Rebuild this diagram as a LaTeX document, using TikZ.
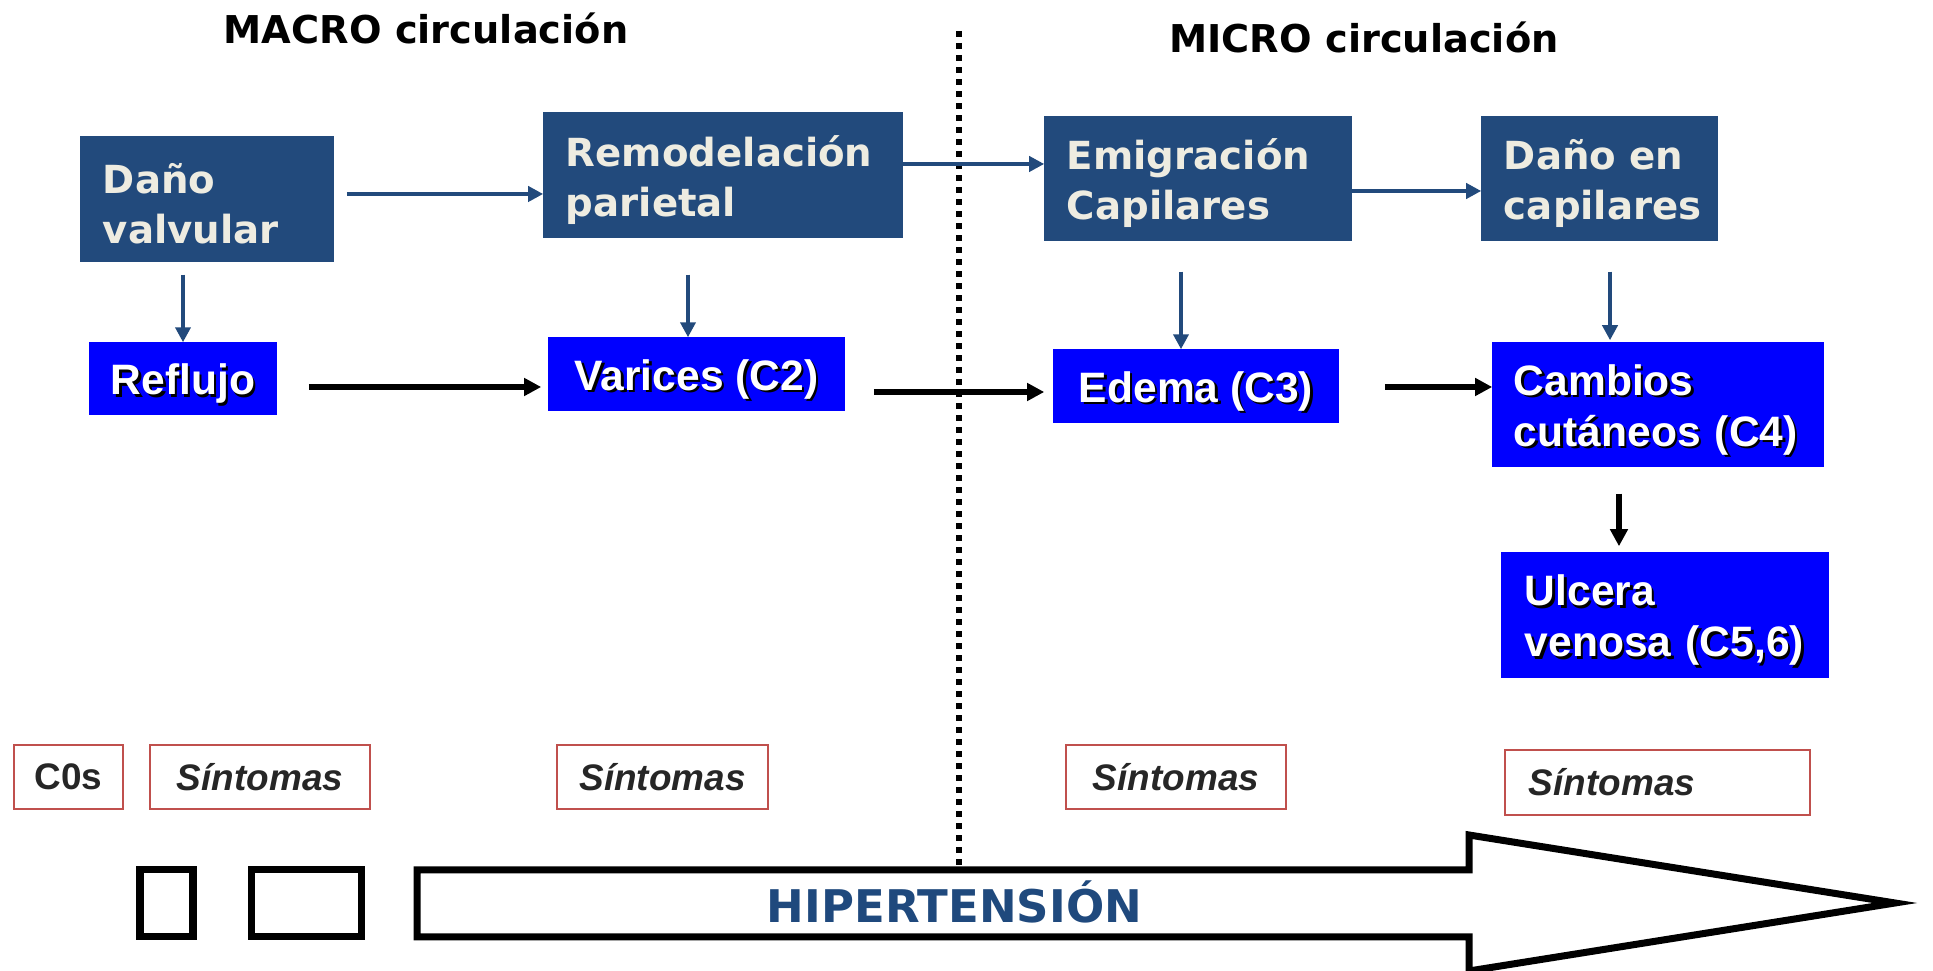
\documentclass[tikz,border=0pt]{standalone}
\usepackage{fontspec}
\setmainfont{Liberation Sans}
\newfontfamily\verdfont{DejaVu Sans}
\usetikzlibrary{arrows.meta}
\definecolor{navybox}{RGB}{34,74,124}
\definecolor{creamtxt}{RGB}{238,236,225}
\definecolor{brightblue}{RGB}{0,0,255}
\definecolor{symred}{RGB}{192,80,77}
\definecolor{symgray}{RGB}{38,38,38}
\definecolor{hiperblue}{RGB}{31,73,125}
\newcommand{\lowered}[1]{\raisebox{-0.05cm}[\height][\depth]{#1}}
\newcommand{\shadowed}[1]{\raisebox{-0.065cm}[\height][\depth]{\makebox[0pt][l]{\hspace{0.025cm}\raisebox{-0.025cm}{\color{black}#1}}#1}}

\begin{document}
\begin{tikzpicture}[x=0.01cm, y=-0.01cm,
    title/.style={font=\verdfont\bfseries\fontsize{10.9}{13}\selectfont},
    macrobox/.style={fill=navybox, draw=navybox, text=creamtxt, inner ysep=0pt,
      inner xsep=0.22cm, align=left,
      font=\verdfont\bfseries\fontsize{11}{14.2}\selectfont},
    microbox/.style={fill=brightblue, draw=brightblue, text=white, inner ysep=0pt,
      font=\bfseries\fontsize{12.1}{14.4}\selectfont},
    symbox/.style={draw=symred, line width=0.02cm, text=symgray, inner ysep=0pt,
      minimum height=0.64cm, font=\bfseries\itshape\fontsize{10.5}{12}\selectfont},
    thinarrow/.style={draw=navybox, line width=0.04cm,
      -{Triangle[length=0.15cm, width=0.15cm]}},
    thickarrow/.style={draw=black, line width=0.065cm,
      -{Triangle[length=0.17cm, width=0.17cm]}},
    outline/.style={draw=black, line width=0.07cm, line join=miter}]
    \useasboundingbox (0,0) rectangle (1933,971);

    % Titles and divider
    \node [title] (tmacro) at (426,28) {MACRO circulación};
    \node [title] (tmicro) at (1364,37) {MICRO circulación};
    \coordinate (dtop) at (959,31);
    \coordinate (dbot) at (959,866);
    \draw [line width=0.06cm, dash pattern=on 0.06cm off 0.06cm] (dtop) -- (dbot);

    % Upper row
    \node [macrobox, text width=2.08cm, minimum height=1.24cm] (dv) at (207,199)
      {\lowered{Daño}\\\lowered{valvular}};
    \node [macrobox, text width=3.14cm, minimum height=1.24cm] (rp) at (723,175)
      {\lowered{Remodelación}\\\lowered{parietal}};
    \node [macrobox, text width=2.62cm, minimum height=1.23cm] (ec) at (1198,178.5)
      {\lowered{Emigración}\\\lowered{Capilares}};
    \node [macrobox, text width=1.91cm, minimum height=1.23cm] (dc) at (1599.5,178.5)
      {\lowered{Daño en}\\\lowered{capilares}};

    % Lower row
    \node [microbox, minimum width=1.86cm, minimum height=0.71cm] (rf) at (183,378.5)
      {\shadowed{Reflujo}};
    \node [microbox, minimum width=2.95cm, minimum height=0.72cm] (vc) at (696.5,374)
      {\shadowed{Varices (C2)}};
    \node [microbox, minimum width=2.84cm, minimum height=0.72cm] (ed) at (1196,386)
      {\shadowed{Edema (C3)}};
    \node [microbox, inner xsep=0.21cm, text width=2.88cm, align=left,
      minimum height=1.23cm] (cc) at (1658,404.5)
      {\shadowed{Cambios}\\\shadowed{cutáneos (C4)}};
    \node [microbox, inner xsep=0.23cm, text width=2.80cm, align=left,
      minimum height=1.24cm] (uv) at (1665,615)
      {\shadowed{Ulcera}\\\shadowed{venosa (C5,6)}};

    % Symptom boxes
    \node [symbox, minimum width=1.09cm, font=\bfseries\fontsize{10.5}{12}\selectfont]
      (s0) at (68.5,777) {C0s};
    \node [symbox, minimum width=2.20cm] (s1) at (260,777) {Síntomas};
    \node [symbox, minimum width=2.11cm] (s2) at (662.5,777) {Síntomas};
    \node [symbox, minimum width=2.20cm] (s3) at (1176,777) {Síntomas};
    \node [symbox, inner xsep=0.24cm, text width=2.57cm, align=left,
      minimum height=0.65cm] (s4) at (1657.5,782.5) {Síntomas};

    % Connectors
    \draw [thinarrow] ([xshift=0.13cm, yshift=0.05cm]dv.east) -- ([yshift=0.05cm]dv.east -| rp.west);
    \draw [thinarrow] ([yshift=0.11cm]rp.east) -- ([yshift=0.11cm]rp.east -| ec.west);
    \draw [thinarrow] ([yshift=-0.125cm]ec.east) -- ([yshift=-0.125cm]ec.east -| dc.west);
    \draw [thinarrow] ([yshift=-0.13cm]dv.south -| rf.north) -- (rf.north);
    \draw [thinarrow, shorten <=0.37cm] ([xshift=-0.085cm]vc.north |- rp.south) -- ([xshift=-0.085cm]vc.north);
    \draw [thinarrow, shorten <=0.31cm] ([xshift=-0.15cm]ed.north |- ec.south) -- ([xshift=-0.15cm]ed.north);
    \draw [thinarrow, shorten <=0.31cm, shorten >=0.02cm] ([xshift=0.105cm]dc.south) -- ([xshift=0.105cm]dc.south |- cc.north);

    \draw [thickarrow, shorten <=0.32cm, shorten >=0.07cm] ([yshift=-0.085cm]rf.east) -- ([yshift=-0.085cm]rf.east -| vc.west);
    \draw [thickarrow, shorten <=0.29cm, shorten >=0.09cm] ([yshift=-0.18cm]vc.east) -- ([yshift=-0.18cm]vc.east -| ed.west);
    \draw [thickarrow, shorten <=0.46cm] ([yshift=-0.01cm]ed.east) -- ([yshift=-0.01cm]ed.east -| cc.west);
    \draw [thickarrow, shorten <=0.27cm, shorten >=0.06cm] ([xshift=-0.39cm]cc.south) -- ([xshift=-0.39cm]cc.south |- uv.north);

    % Pressure arrow
    \draw [outline] (140,870) rectangle (193,937);
    \draw [outline] (251,870) rectangle (361,937);
    \draw [outline] (417,870) -- (1469,870) -- (1469,835) -- (1895,903)
      -- (1469,971) -- (1469,937) -- (417,937) -- cycle;
    \node [text=hiperblue, font=\verdfont\bfseries\fontsize{12.8}{15}\selectfont]
      (hp) at (954.5,902) {HIPERTENSIÓN};
\end{tikzpicture}
\end{document}
